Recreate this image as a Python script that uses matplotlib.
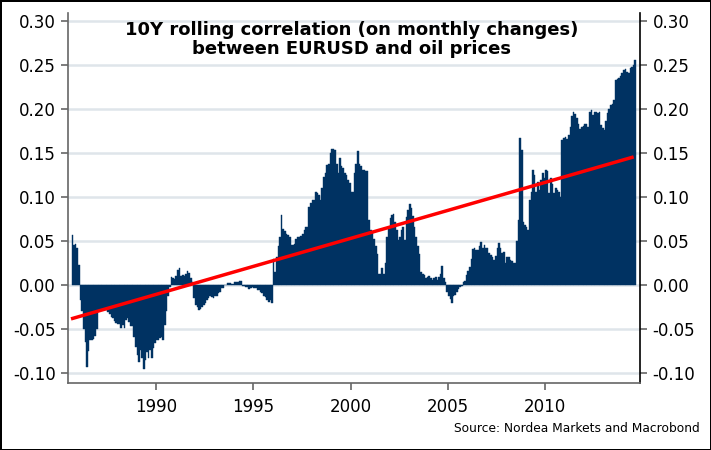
import numpy as np
import matplotlib
matplotlib.use("Agg")
import matplotlib.pyplot as plt

plt.rcParams['font.family'] = ['DejaVu Sans']
plt.rcParams['axes.unicode_minus'] = False

# monthly 10Y rolling correlation, first bar = Sep 1985
start_year = 1985 + 8 / 12
corr = [
    0.057, 0.045, 0.047, 0.042, 0.023, -0.017, -0.030, -0.050, -0.065, -0.093, -0.075, -0.062,
    -0.062, -0.061, -0.058, -0.050, -0.030, -0.028, -0.028, -0.028, -0.029, -0.028, -0.031, -0.033,
    -0.036, -0.037, -0.041, -0.043, -0.044, -0.044, -0.049, -0.046, -0.049, -0.040, -0.038, -0.042,
    -0.047, -0.047, -0.059, -0.070, -0.080, -0.087, -0.074, -0.083, -0.095, -0.085, -0.076, -0.083,
    -0.074, -0.083, -0.072, -0.066, -0.062, -0.062, -0.060, -0.059, -0.062, -0.045, -0.030, -0.013,
    -0.002, 0.009, 0.008, 0.007, 0.010, 0.017, 0.019, 0.010, 0.011, 0.010, 0.013, 0.016,
    0.014, 0.008, 0.003, -0.015, -0.023, -0.025, -0.028, -0.027, -0.025, -0.023, -0.020, -0.017,
    -0.015, -0.013, -0.014, -0.015, -0.013, -0.012, -0.009, -0.008, -0.004, -0.004, 0.000, 0.000,
    0.002, 0.002, 0.001, 0.001, 0.003, 0.003, 0.003, 0.005, 0.005, -0.001, -0.001, -0.002,
    -0.002, -0.005, -0.004, -0.002, -0.004, -0.004, -0.006, -0.006, -0.008, -0.009, -0.012, -0.014,
    -0.017, -0.019, -0.017, -0.021, 0.030, 0.015, 0.032, 0.044, 0.055, 0.080, 0.064, 0.061,
    0.058, 0.057, 0.054, 0.045, 0.045, 0.047, 0.052, 0.054, 0.055, 0.056, 0.058, 0.063,
    0.066, 0.066, 0.089, 0.093, 0.096, 0.097, 0.106, 0.105, 0.102, 0.097, 0.110, 0.123,
    0.127, 0.136, 0.138, 0.150, 0.154, 0.155, 0.153, 0.138, 0.127, 0.144, 0.135, 0.133,
    0.127, 0.125, 0.119, 0.116, 0.106, 0.106, 0.127, 0.138, 0.152, 0.138, 0.135, 0.131,
    0.131, 0.129, 0.129, 0.074, 0.062, 0.059, 0.052, 0.044, 0.035, 0.013, 0.013, 0.019,
    0.013, 0.025, 0.055, 0.064, 0.076, 0.080, 0.081, 0.072, 0.063, 0.051, 0.055, 0.063,
    0.066, 0.051, 0.077, 0.085, 0.092, 0.087, 0.078, 0.066, 0.055, 0.044, 0.035, 0.015,
    0.013, 0.011, 0.008, 0.009, 0.010, 0.008, 0.006, 0.008, 0.009, 0.006, 0.009, 0.012,
    0.021, 0.008, 0.003, -0.008, -0.013, -0.016, -0.021, -0.013, -0.011, -0.008, -0.005, -0.002,
    -0.001, 0.003, 0.005, 0.011, 0.016, 0.020, 0.030, 0.041, 0.042, 0.040, 0.040, 0.044,
    0.049, 0.042, 0.045, 0.042, 0.042, 0.036, 0.034, 0.032, 0.028, 0.033, 0.042, 0.048,
    0.042, 0.036, 0.038, 0.025, 0.032, 0.032, 0.028, 0.027, 0.025, 0.025, 0.050, 0.074,
    0.167, 0.153, 0.072, 0.068, 0.066, 0.063, 0.097, 0.106, 0.131, 0.125, 0.106, 0.117,
    0.108, 0.119, 0.127, 0.121, 0.131, 0.129, 0.104, 0.121, 0.115, 0.104, 0.110, 0.108,
    0.106, 0.100, 0.165, 0.167, 0.168, 0.166, 0.170, 0.180, 0.192, 0.197, 0.194, 0.190,
    0.183, 0.177, 0.179, 0.181, 0.183, 0.183, 0.180, 0.197, 0.199, 0.193, 0.197, 0.197,
    0.195, 0.197, 0.182, 0.178, 0.176, 0.186, 0.195, 0.200, 0.205, 0.206, 0.210, 0.233,
    0.234, 0.235, 0.237, 0.241, 0.244, 0.245, 0.242, 0.241, 0.246, 0.248, 0.250, 0.256,
]
corr = np.array(corr)
t = start_year + np.arange(len(corr)) / 12

# trend line (end points)
trend_years = [1985.72, 2014.46]
trend_vals = [-0.038, 0.145]

yticks = [-0.10, -0.05, 0.00, 0.05, 0.10, 0.15, 0.20, 0.25, 0.30]
xticks = [1990, 1995, 2000, 2005, 2010]

bar_color = '#003262'
axis_color = '#666666'

fig = plt.figure(figsize=(7.11, 4.5), dpi=100)
fig.patch.set_edgecolor('black')
fig.patch.set_linewidth(1.8)
ax = fig.add_axes([68 / 711, 1 - 383 / 450, (640 - 68) / 711, (383 - 12.7) / 450])

for yv in yticks:
    ax.axhline(yv, color='#dfe5ea', lw=1.8, zorder=0)

ax.bar(t, corr, width=1 / 12, align='edge', color=bar_color,
       edgecolor=bar_color, linewidth=0.3, zorder=2)

ax.plot(trend_years, trend_vals, color='#ff0000', lw=2.5, zorder=3)

ax.set_xlim(1985.48, 2014.87)
ax.set_ylim(-0.1114, 0.3094)
ax.set_yticks(yticks)
ax.set_yticklabels([f'{v:.2f}' for v in yticks])
ax.set_xticks(xticks)

ax.spines['top'].set_visible(False)
for s in ['left', 'bottom']:
    ax.spines[s].set_color(axis_color)
    ax.spines[s].set_linewidth(1.2)
ax.spines['right'].set_color('black')
ax.spines['right'].set_linewidth(1.2)

ax.tick_params(axis='y', which='both', left=True, right=True, labelleft=True,
               labelright=True, length=5, width=1.2, color=axis_color,
               labelsize=12, pad=4)
ax.tick_params(axis='x', length=5, width=1.2, color=axis_color, labelsize=12, pad=6)

fig.text(352 / 711, 1 - 21 / 450,
         '10Y rolling correlation (on monthly changes)\nbetween EURUSD and oil prices',
         ha='center', va='top', fontsize=13, fontweight='bold', linespacing=1.1)
fig.text(700 / 711, 1 - 428 / 450, 'Source: Nordea Markets and Macrobond',
         ha='right', va='center', fontsize=8.8)

fig.savefig('out.png', dpi=100, edgecolor='black')
